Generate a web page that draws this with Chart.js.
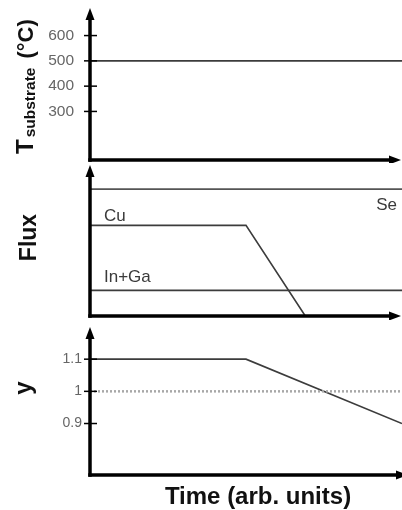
<!DOCTYPE html>
<html><head><meta charset="utf-8">
<script src="https://cdn.jsdelivr.net/npm/chart.js@4"></script>
<style>
html,body{margin:0;padding:0;background:#fff;}
#wrap{position:relative;width:402px;height:510px;overflow:hidden;background:#fff;}
canvas{position:absolute;left:0;}
</style></head><body>
<div id="wrap">
<canvas id="c1" width="402" height="163" style="top:0px"></canvas>
<canvas id="c2" width="402" height="158" style="top:162px"></canvas>
<canvas id="c3" width="402" height="190" style="top:320px"></canvas>
</div>
<script>
// ---- data ----
const timeSpan = [0, 100];
const substrateTemp = [500, 500];
const tempTicks = [300, 400, 500, 600];
const seTime = [0, 100];
const seFlux = [8.4, 8.4];
const cuTime = [0, 50, 69];
const cuFlux = [6.0, 6.0, 0];
const inGaTime = [0, 100];
const inGaFlux = [1.7, 1.7];
const yTime = [0, 50, 100];
const yValues = [1.1, 1.1, 0.9];
const refTime = [0, 100];
const refValues = [1, 1];
const yTicks = [0.9, 1, 1.1];
const yTickLabels = ['0.9', '1', '1.1'];
const fluxLabels = ['Se', 'Cu', 'In+Ga'];

const FONT = '"Liberation Sans", Arial, Helvetica, sans-serif';
const pts = (xs, ys) => xs.map((x, i) => ({x, y: ys[i]}));
const LINE = '#3c3c3c';

function ds(label, xs, ys, extra) {
  return Object.assign({label, data: pts(xs, ys), borderColor: LINE, borderWidth: 1.6,
    pointRadius: 0, fill: false, tension: 0}, extra || {});
}

const axesPlugin = {
  id: 'axes',
  afterDatasetsDraw(chart, args, opts) {
    const {ctx, chartArea: a} = chart;
    const ys = chart.scales.y;
    ctx.save();
    ctx.strokeStyle = '#000'; ctx.fillStyle = '#000';
    ctx.lineWidth = 3.5; ctx.lineCap = 'butt';
    // y axis
    ctx.beginPath(); ctx.moveTo(a.left, a.bottom + 1.75); ctx.lineTo(a.left, a.top + 8); ctx.stroke();
    ctx.beginPath(); ctx.moveTo(a.left, a.top); ctx.lineTo(a.left - 4.5, a.top + 12);
    ctx.lineTo(a.left + 4.5, a.top + 12); ctx.closePath(); ctx.fill();
    // x axis
    const tip = opts.xTip;
    ctx.beginPath(); ctx.moveTo(a.left - 1.75, a.bottom); ctx.lineTo(tip - 8, a.bottom); ctx.stroke();
    ctx.beginPath(); ctx.moveTo(tip, a.bottom); ctx.lineTo(tip - 12, a.bottom - 4.5);
    ctx.lineTo(tip - 12, a.bottom + 4.5); ctx.closePath(); ctx.fill();
    // tick marks
    ctx.lineWidth = 1.5;
    (ys.ticks || []).forEach(t => {
      const p = ys.getPixelForValue(t.value);
      ctx.beginPath(); ctx.moveTo(a.left - 6, p); ctx.lineTo(a.left + 7, p); ctx.stroke();
    });
    ctx.restore();
  }
};

function yScale(min, max, ticks, labels, size, pad) {
  return {
    type: 'linear', min, max, position: 'left',
    grid: {display: false, drawTicks: false}, border: {display: false},
    afterBuildTicks: s => { s.ticks = (ticks || []).map(v => ({value: v})); },
    afterFit: s => { s.width = 90; s.paddingTop = 0; s.paddingBottom = 0; },
    ticks: {display: !!ticks, padding: pad, color: '#666', font: {family: FONT, size},
      callback: (v, i) => labels ? labels[i] : String(v)}
  };
}
const xScale = {type: 'linear', min: 0, max: 100, display: false,
  afterFit: s => { s.paddingLeft = 0; s.paddingRight = 0; }};

function baseOptions(padTop, padBottom, y, xTip) {
  return {
    responsive: false, animation: false, devicePixelRatio: 1,
    layout: {padding: {top: padTop, bottom: padBottom, left: 0, right: 0}},
    plugins: {legend: {display: false}, tooltip: {enabled: false}, axes: {xTip}},
    scales: {x: xScale, y}
  };
}

// ---- panel 1 ----
const titleT = {
  id: 'titleT',
  afterDraw(chart) {
    const ctx = chart.ctx;
    ctx.save();
    ctx.translate(33, 154); ctx.rotate(-Math.PI / 2);
    ctx.fillStyle = '#111'; ctx.textBaseline = 'alphabetic'; ctx.textAlign = 'left';
    ctx.font = 'bold 24px ' + FONT; ctx.fillText('T', 0, 0);
    let u = ctx.measureText('T').width + 2;
    ctx.font = 'bold 15.5px ' + FONT; ctx.fillText('substrate', u, 1.5);
    u += ctx.measureText('substrate').width + 9;
    ctx.font = 'bold 22px ' + FONT; ctx.fillText('(°C)', u, 0);
    ctx.restore();
  }
};
new Chart(document.getElementById('c1'), {
  type: 'line',
  data: {datasets: [ds('T substrate', timeSpan, substrateTemp)]},
  options: baseOptions(8, 3, yScale(108, 709, tempTicks, null, 15.5, 16), 401),
  plugins: [axesPlugin, titleT]
});

// ---- panel 2 ----
const fluxText = {
  id: 'fluxText',
  afterDraw(chart) {
    const ctx = chart.ctx, a = chart.chartArea, ys = chart.scales.y;
    ctx.save();
    ctx.fillStyle = '#3a3a3a'; ctx.font = '17px ' + FONT; ctx.textBaseline = 'alphabetic';
    // Se: right aligned under its line
    ctx.textAlign = 'right';
    ctx.fillText(fluxLabels[0], 397, ys.getPixelForValue(seFlux[0]) + 21);
    ctx.textAlign = 'left';
    ctx.fillText(fluxLabels[1], a.left + 14, ys.getPixelForValue(cuFlux[0]) - 4);
    ctx.fillText(fluxLabels[2], a.left + 14, ys.getPixelForValue(inGaFlux[0]) - 8);
    // axis title
    ctx.translate(36, (a.top + a.bottom) / 2 - 3); ctx.rotate(-Math.PI / 2);
    ctx.fillStyle = '#111'; ctx.textAlign = 'center';
    ctx.font = 'bold 23px ' + FONT; ctx.fillText('Flux', 0, 0);
    ctx.restore();
  }
};
new Chart(document.getElementById('c2'), {
  type: 'line',
  data: {datasets: [
    ds(fluxLabels[0], seTime, seFlux, {borderColor: '#555'}),
    ds(fluxLabels[1], cuTime, cuFlux),
    ds(fluxLabels[2], inGaTime, inGaFlux)
  ]},
  options: baseOptions(3, 4, yScale(0, 10, null, null, 13, 8), 401),
  plugins: [axesPlugin, fluxText]
});

// ---- panel 3 ----
const yText = {
  id: 'yText',
  afterDraw(chart) {
    const ctx = chart.ctx;
    ctx.save();
    ctx.fillStyle = '#111';
    ctx.font = 'bold 24px ' + FONT; ctx.textAlign = 'center'; ctx.textBaseline = 'alphabetic';
    ctx.fillText('Time (arb. units)', 258, 184);
    ctx.translate(31, 68); ctx.rotate(-Math.PI / 2);
    ctx.fillText('y', 0, 0);
    ctx.restore();
  }
};
new Chart(document.getElementById('c3'), {
  type: 'line',
  data: {datasets: [
    ds('y = 1', refTime, refValues, {borderColor: '#a8a8a8', borderWidth: 2.5, borderDash: [2, 2]}),
    ds('y', yTime, yValues)
  ]},
  options: baseOptions(7, 35, yScale(0.74, 1.2, yTicks, yTickLabels, 14, 8), 408),
  plugins: [axesPlugin, yText]
});
</script>
</body></html>
